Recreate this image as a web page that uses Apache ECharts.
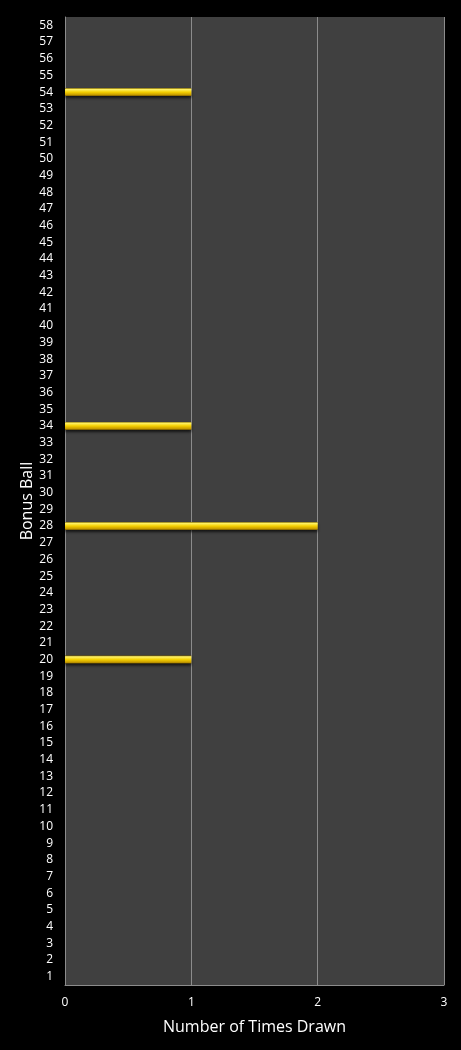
<!DOCTYPE html>
<html><head><meta charset="utf-8">
<script src="https://cdn.jsdelivr.net/npm/echarts@6/dist/echarts.min.js"></script>
<style>html,body{margin:0;padding:0;background:#000;}#c{width:461px;height:1050px;}</style>
</head><body><div id="c"></div>
<script>
const categories = [];
for (let i = 1; i <= 58; i++) categories.push(String(i));
const drawnBalls = ['20', '28', '34', '54'];
const drawnCounts = [1, 2, 1, 1];
const values = categories.map(c => { const k = drawnBalls.indexOf(c); return k >= 0 ? drawnCounts[k] : null; });
const xTicks = [0, 1, 2, 3];

const chart = echarts.init(document.getElementById('c'), null, {renderer: 'canvas'});
const font = 'Open Sans';
chart.setOption({
  backgroundColor: '#000',
  animation: false,
  grid: {left: 65, right: 17, top: 17, bottom: 65, show: true, backgroundColor: '#404040', borderWidth: 0},
  xAxis: {
    type: 'value', min: xTicks[0], max: xTicks[xTicks.length - 1], interval: 1,
    name: 'Number of Times Drawn', nameLocation: 'middle', nameGap: 34,
    nameTextStyle: {color: '#fff', fontSize: 16, fontFamily: font},
    axisLine: {show: true, lineStyle: {color: '#8c8c8c', width: 1}},
    axisTick: {show: false},
    axisLabel: {color: '#fff', fontSize: 12, fontFamily: font, margin: 12},
    splitLine: {show: true, lineStyle: {color: '#8c8c8c', width: 1}}
  },
  yAxis: {
    type: 'category', data: categories,
    name: 'Bonus Ball', nameLocation: 'middle', nameGap: 30, nameRotate: 90, nameMoveOverlap: false,
    nameTextStyle: {color: '#fff', fontSize: 16, fontFamily: font},
    axisLine: {show: true, lineStyle: {color: '#8c8c8c', width: 1}},
    axisTick: {show: false},
    axisLabel: {color: '#fff', fontSize: 12, fontFamily: font, interval: 0, margin: 12},
    splitLine: {show: false}
  },
  series: [{
    type: 'bar', data: values, barWidth: 8,
    itemStyle: {
      color: new echarts.graphic.LinearGradient(0, 0, 0, 1, [
        {offset: 0, color: '#7a6200'},
        {offset: 0.15, color: '#fff36a'},
        {offset: 0.5, color: '#f5d000'},
        {offset: 0.85, color: '#c69a00'},
        {offset: 1, color: '#6b5200'}
      ]),
      shadowColor: 'rgba(0,0,0,0.7)', shadowBlur: 3, shadowOffsetY: 2
    }
  }]
});
</script></body></html>
